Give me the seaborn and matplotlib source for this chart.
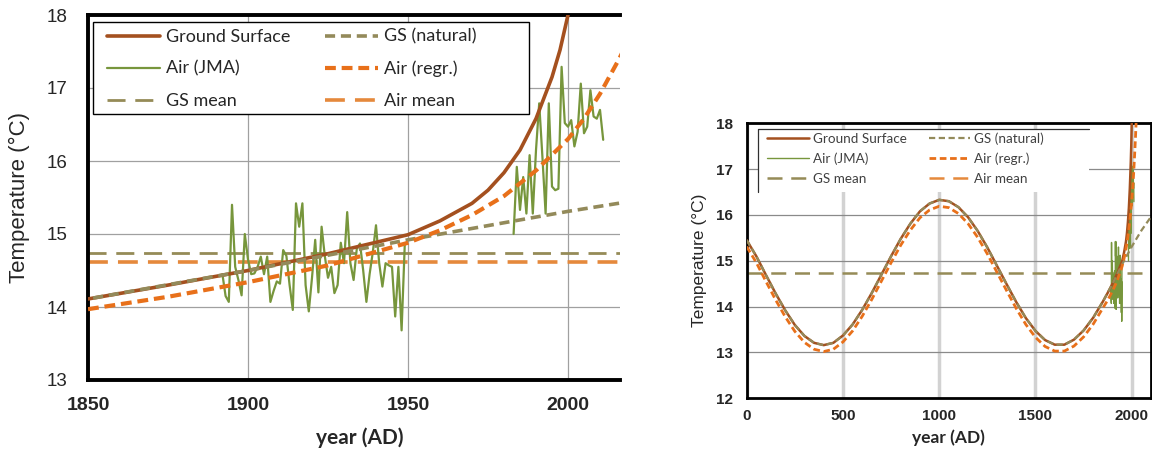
import matplotlib
matplotlib.use("Agg")
import matplotlib.pyplot as plt
from matplotlib.patches import Rectangle
from matplotlib.lines import Line2D
import seaborn as sns

# ---------------- data ----------------
sin_years = list(range(0, 2101, 50))
gs_natural = [15.45, 15.10, 14.69, 14.29, 13.92, 13.60, 13.36, 13.21, 13.16, 13.21,
              13.37, 13.61, 13.93, 14.30, 14.70, 15.10, 15.48, 15.81, 16.08, 16.25,
              16.33, 16.30, 16.17, 15.95, 15.65, 15.29, 14.89, 14.49, 14.10, 13.75,
              13.47, 13.27, 13.17, 13.17, 13.28, 13.48, 13.76, 14.11, 14.50, 14.92,
              15.31, 15.66, 15.96]
hist_years = list(range(0, 1801, 50))
gs_surface_hist = [15.45, 15.10, 14.69, 14.29, 13.92, 13.60, 13.36, 13.21, 13.16, 13.21,
                   13.37, 13.61, 13.93, 14.30, 14.70, 15.10, 15.48, 15.81, 16.08, 16.25,
                   16.33, 16.30, 16.17, 15.95, 15.65, 15.29, 14.89, 14.49, 14.10, 13.75,
                   13.47, 13.27, 13.17, 13.17, 13.28, 13.48, 13.76]
air_regr_hist = [15.31, 14.96, 14.55, 14.15, 13.78, 13.46, 13.22, 13.07, 13.02, 13.07,
                 13.23, 13.47, 13.79, 14.16, 14.56, 14.96, 15.34, 15.67, 15.94, 16.11,
                 16.19, 16.16, 16.03, 15.81, 15.51, 15.15, 14.75, 14.35, 13.96, 13.61,
                 13.33, 13.13, 13.03, 13.03, 13.14, 13.34, 13.62]

gs_years = [1850, 1875, 1900, 1925, 1950, 1960, 1970, 1975, 1980, 1985, 1990, 1995, 1997.5, 2000, 2003]
gs_surface = [14.11, 14.30, 14.50, 14.73, 14.99, 15.18, 15.42, 15.60, 15.84, 16.15, 16.58, 17.15, 17.52, 18.0, 18.6]

air_regr_years = [1850, 1875, 1900, 1925, 1950, 1960, 1970, 1980, 1990, 2000, 2005, 2010, 2016, 2020, 2025, 2030]
air_regr = [13.97, 14.14, 14.34, 14.57, 14.88, 15.05, 15.26, 15.52, 15.87, 16.30, 16.58, 16.92, 17.40, 17.75, 18.25, 18.8]

jma_years_1 = list(range(1892, 1950))
jma_temp_1 = [14.45, 14.15, 14.07, 15.40, 14.55, 14.37, 14.16, 15.00, 14.65, 14.45,
              14.46, 14.55, 14.69, 14.45, 14.69, 14.07, 14.22, 14.35, 14.32, 14.78,
              14.70, 14.30, 13.96, 15.42, 15.10, 15.42, 14.30, 13.94, 14.40, 14.92,
              14.20, 15.10, 14.70, 14.40, 14.55, 14.19, 14.30, 14.88, 14.60, 15.30,
              14.60, 14.37, 14.80, 14.87, 14.50, 14.07, 14.45, 14.75, 15.12, 14.60,
              14.28, 14.60, 14.57, 14.55, 13.87, 14.55, 13.68, 14.87]
jma_years_2 = list(range(1983, 2012))
jma_temp_2 = [15.00, 15.92, 15.33, 15.78, 15.28, 16.08, 15.28, 16.15, 16.79, 16.06,
              15.28, 16.79, 15.65, 15.60, 15.62, 17.29, 16.52, 16.47, 16.56, 16.20,
              16.40, 17.06, 16.38, 16.47, 16.97, 16.61, 16.58, 16.70, 16.29]

gs_mean = 14.74
air_mean = 14.61

labels = ["Ground Surface", "GS (natural)", "Air (JMA)", "Air (regr.)", "GS mean", "Air mean"]

# ---------------- styles ----------------
C_GS = "#A4501F"
C_NAT = "#938A5A"
C_JMA = "#77963C"
C_REGR = "#E8701A"
C_GSM = "#958B57"
C_AIRM = "#E5893C"
LEGFONT = ["Lato", "DejaVu Sans"]

sns.set_style("white")
plt.rcParams['font.family'] = ['Liberation Sans', 'DejaVu Sans']

fig = plt.figure(figsize=(11.52, 4.5), dpi=100)
W, H = 1152, 450
ax1 = fig.add_axes([88 / W, 70 / H, 532 / W, 365 / H])
ax2 = fig.add_axes([746.7 / W, 51.7 / H, 404.3 / W, 275 / H])


def line(ax, x, y, **kw):
    sns.lineplot(x=x, y=y, ax=ax, estimator=None, sort=False, **kw)


order = [labels[0], labels[2], labels[4], labels[1], labels[3], labels[5]]

# ---------------- left panel ----------------
line(ax1, gs_years, gs_surface, color=C_GS, lw=2.6, label=labels[0], zorder=4)
line(ax1, sin_years, gs_natural, color=C_NAT, lw=2.6, ls=(0, (2.8, 1.6)), label=labels[1], zorder=5)
line(ax1, jma_years_1, jma_temp_1, color=C_JMA, lw=1.6, label=labels[2], zorder=3)
line(ax1, jma_years_2, jma_temp_2, color=C_JMA, lw=1.6, zorder=3)
line(ax1, air_regr_years, air_regr, color=C_REGR, lw=3.0, ls=(0, (2.6, 1.4)), label=labels[3], zorder=6)
ax1.axhline(gs_mean, color=C_GSM, lw=2.0, ls=(0, (6.5, 3.5)), label=labels[4], zorder=2)
ax1.axhline(air_mean, color=C_AIRM, lw=2.6, ls=(0, (5.5, 2.8)), label=labels[5], zorder=2)

ax1.set_xlim(1850, 2016.25)
ax1.set_ylim(13, 18)
ax1.set_xticks([1850, 1900, 1950, 2000])
ax1.set_yticks([13, 14, 15, 16, 17, 18])
ax1.grid(True, color="#a0a0a0", lw=0.9)
ax1.set_axisbelow(True)
for s in ["left", "top", "bottom"]:
    ax1.spines[s].set_color("black")
    ax1.spines[s].set_linewidth(2.8)
ax1.spines["right"].set_visible(False)
ax1.tick_params(axis="both", length=0)
ax1.tick_params(axis="x", pad=12, labelsize=14)
ax1.tick_params(axis="y", pad=15, labelsize=13.5)
for t in ax1.get_xticklabels():
    t.set_fontweight("bold")
ax1.set_xlabel("year (AD)", fontsize=15, fontweight="bold", family=LEGFONT)
ax1.xaxis.set_label_coords((360 - 88) / 532, -0.13)
ax1.set_ylabel("Temperature (°C)", fontsize=16)
ax1.yaxis.set_label_coords((30 - 88) / 532, 0.5)

# legend box (as in the reference, wider than its entries)
ax1.add_patch(Rectangle((0.0094, 0.729), 0.8195, 0.252, transform=ax1.transAxes,
                        facecolor="white", edgecolor="black", lw=1.0, zorder=9))
h, l = ax1.get_legend_handles_labels()
hd = dict(zip(l, h))
leg1 = ax1.legend([hd[k] for k in order], order, ncol=2, loc="upper left",
                  bbox_to_anchor=(0.0222, 0.982),
                  prop={"family": LEGFONT, "size": 13},
                  frameon=False, handlelength=2.93, handletextpad=0.33,
                  labelspacing=0.88, borderaxespad=0, borderpad=0.4, columnspacing=1.93)
leg1.set_zorder(10)

# ---------------- right panel ----------------
line(ax2, hist_years + gs_years, gs_surface_hist + gs_surface, color=C_GS, lw=1.8, label=labels[0], zorder=4)
line(ax2, sin_years, gs_natural, color=C_NAT, lw=1.6, ls=(0, (2.8, 1.6)), label=labels[1], zorder=5)
line(ax2, jma_years_1, jma_temp_1, color=C_JMA, lw=1.0, label=labels[2], zorder=3)
line(ax2, jma_years_2, jma_temp_2, color=C_JMA, lw=1.0, zorder=3)
line(ax2, hist_years + air_regr_years, air_regr_hist + air_regr, color=C_REGR, lw=2.0,
     ls=(0, (2.4, 1.3)), label=labels[3], zorder=6)
ax2.axhline(gs_mean, color=C_GSM, lw=1.8, ls=(0, (6, 3.5)), label=labels[4], zorder=2)
ax2.plot([], [], color=C_AIRM, lw=1.8, ls=(0, (6, 3.5)), label=labels[5])

ax2.set_xlim(0, 2100)
ax2.set_ylim(12, 18)
ax2.set_xticks([0, 500, 1000, 1500, 2000])
ax2.set_yticks([12, 13, 14, 15, 16, 17, 18])
ax2.grid(True, axis="y", color="#8a8a8a", lw=0.9)
ax2.grid(True, axis="x", color="#d2d2d2", lw=2.5)
ax2.set_axisbelow(True)
for s in ["left", "top", "bottom", "right"]:
    ax2.spines[s].set_color("black")
    ax2.spines[s].set_linewidth(2.0)
ax2.tick_params(axis="both", length=0, labelsize=11)
ax2.tick_params(axis="x", pad=8)
ax2.tick_params(axis="y", pad=10)
for t in ax2.get_xticklabels() + ax2.get_yticklabels():
    t.set_fontweight("bold")
ax2.set_xlabel("year (AD)", fontsize=12.5, fontweight="bold", family=LEGFONT)
ax2.xaxis.set_label_coords(0.5, -0.112)
ax2.set_ylabel("Temperature (°C)", fontsize=12.5)
ax2.yaxis.set_label_coords(-0.098, 0.5)

# legend box: only its top and left edges show in the reference
ax2.add_patch(Rectangle((0.028, 0.750), 0.819, 0.229, transform=ax2.transAxes,
                        facecolor="white", edgecolor="none", zorder=9))
ax2.add_line(Line2D([0.028, 0.028, 0.847], [0.750, 0.979, 0.979], transform=ax2.transAxes,
                    color="#303030", lw=0.9, zorder=9.5))
h, l = ax2.get_legend_handles_labels()
hd = dict(zip(l, h))
leg2 = ax2.legend([hd[k] for k in order], order, ncol=2, loc="upper left",
                  bbox_to_anchor=(0.0376, 0.987),
                  prop={"family": LEGFONT, "size": 9.7},
                  frameon=False, handlelength=3.1, handletextpad=0.3,
                  labelspacing=0.57, borderaxespad=0, borderpad=0.4, columnspacing=1.6)
for t in leg2.get_texts():
    t.set_color("#404040")
leg2.set_zorder(10)

fig.savefig("out.png", dpi=100)
